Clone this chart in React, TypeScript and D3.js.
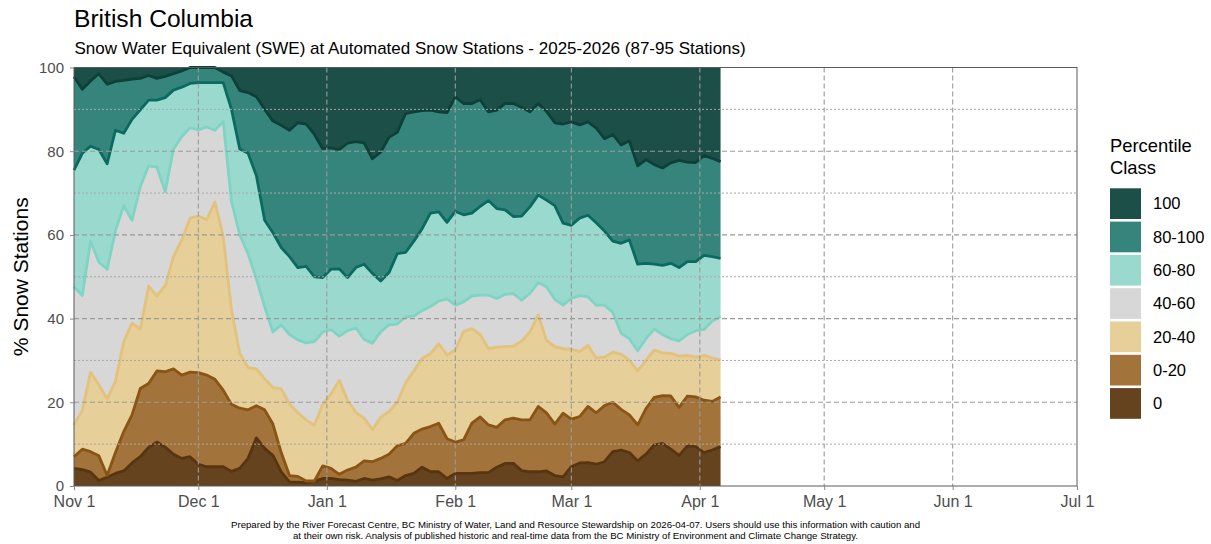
import React, { useEffect, useRef } from "react";
import * as d3 from "d3";

// Readings every second day from 2025-11-01 to 2026-04-06.
// Each array is the cumulative % of stations at or below the top of a class.
const START_DATE = "2025-11-01";
const STEP_DAYS = 2;

const topOf0 = [
  4.2, 3.9, 3.3, 1.3, 2.1, 3, 3.6, 5.5, 7, 9.2, 10.5, 9.3, 7.6, 6.6, 7, 5.2, 4.6, 4.6, 4.6, 3.5,
  4.2, 6.6, 11.5, 9, 7.3, 3.4, 1, 0.9, 0.8, 1.1, 1.8, 1.8, 1.5, 1.4, 1.1, 1.8, 1.4, 1.7, 2.2, 1.3,
  2.5, 3, 4.5, 3.4, 3.4, 1.8, 3, 3, 3, 3.2, 3.2, 4.5, 5.4, 5.4, 3.7, 3.4, 3.4, 3.6, 2.5, 2.2,
  4.6, 5.5, 5.6, 5.2, 5.8, 8.2, 8.6, 8, 6, 7.6, 9.8, 10.2, 8.8, 7.3, 9.6, 9.4, 8, 8.6, 9.4,
];
const topOf0to20 = [
  7, 8.8, 8.2, 7.2, 2.5, 8, 13, 17, 23.3, 24.5, 27.5, 27.3, 28, 26.5, 27.2, 27.1, 26.5, 25.5, 22.9, 19.5,
  18.6, 18.2, 19.2, 18.2, 14.8, 8, 2.5, 2.3, 1.2, 1.2, 4.8, 4.2, 2.8, 3.8, 4.5, 6, 5.8, 6.6, 7.6, 9.6,
  10.2, 12.6, 13.6, 14.2, 15, 11.3, 10.5, 11, 15, 16.5, 14.6, 14, 15.8, 16.2, 15.8, 15.8, 19, 17.5, 14.8, 17.4,
  16, 16.6, 19, 17.5, 19.2, 20, 18.3, 17, 14.6, 18.5, 21.2, 21.6, 21.5, 18.8, 21.5, 21.3, 20.5, 20.2, 21.3,
];
const topOf20to40 = [
  14.6, 18, 27.2, 24.2, 20.8, 25, 34.5, 38.9, 37.5, 47.8, 45.4, 47.8, 54.8, 58.8, 64, 64.5, 63.6, 67.9, 59.6, 42,
  31.7, 28.3, 28, 25.6, 23.5, 23.2, 19.6, 17.5, 15.8, 14.5, 19.5, 22, 25.3, 20.5, 17.6, 16.2, 13.5, 16.4, 17.8, 20,
  24.6, 27.5, 30.5, 31.6, 34, 31.3, 32.5, 36.9, 37.6, 36.2, 32.8, 33.2, 33.3, 33.4, 34.6, 36.8, 40.9, 34.8, 33.3, 32.8,
  32.7, 32.1, 33.6, 30.6, 30.8, 32, 31.5, 30, 27.5, 30, 32.5, 31.8, 31.7, 31, 31.2, 30.8, 31.2, 30.6, 30.1,
];
const topOf40to60 = [
  47.6, 45.5, 58.5, 53.5, 51.8, 61, 67, 63.5, 71.5, 76.5, 76.2, 70.3, 80.5, 83.5, 85.6, 85.1, 85.8, 85, 87.1, 68,
  60, 55.5, 49.5, 42.8, 36.8, 38.5, 36.2, 34.9, 34.2, 34.5, 36.8, 37.4, 35.8, 37.1, 37.8, 35, 34.1, 36.9, 38.5, 38.7,
  40.4, 40.6, 41.9, 42.9, 44.2, 44.7, 43.2, 44, 45.4, 45.6, 45.6, 44.8, 45.8, 46, 44.4, 46, 48.6, 47.6, 44.6, 43.2,
  44.8, 45.5, 45.2, 43.2, 43.2, 41.5, 36.5, 35.2, 32.3, 35.2, 37.5, 36.2, 35.2, 34.7, 36.2, 37.1, 37.4, 39.4, 40.5,
];
const topOf60to80 = [
  75.5, 79.5, 81.2, 80.4, 77, 85, 84.3, 87.6, 89.9, 92.2, 92.2, 92.8, 94.6, 95.3, 96.2, 96.4, 96.4, 96.4, 96.4, 90,
  80.5, 79.5, 74.2, 63.5, 60.5, 57, 54.8, 52.2, 52.5, 50, 49.8, 51.8, 51.9, 49.8, 52.2, 53, 50.8, 49, 51, 55.5,
  55.8, 58.5, 61.5, 65.2, 65.5, 63, 65.6, 64.8, 65.2, 66.8, 68.2, 66.3, 66, 64.4, 64.5, 66.7, 69.5, 68.3, 67, 62.8,
  62.3, 64, 64.7, 62.9, 60.9, 58.5, 58, 58.8, 53, 53.2, 53, 52.7, 53.2, 52.2, 53.6, 53.6, 55.1, 54.8, 54.4,
];
const topOf80to100 = [
  97.8, 94.8, 96.8, 98.5, 96, 96.7, 96.9, 97.2, 97.4, 98.1, 97.4, 97.9, 98.5, 99.2, 100, 100, 100, 100, 98.9, 98,
  94.5, 94, 93, 90, 87.2, 86.2, 85, 86.8, 86.5, 84, 80.6, 80.8, 80.4, 81.9, 82.3, 82, 78.2, 79.8, 83.3, 84.5,
  89, 89.4, 89.7, 89.8, 89.4, 89.2, 93, 91.4, 91.4, 92.3, 89.4, 89.8, 91.4, 91.4, 90.5, 89.4, 91.4, 89.5, 86.8, 86.5,
  87, 86.3, 87, 85.5, 83, 84, 81.5, 82.5, 76.5, 78, 76.8, 76, 77.2, 77.8, 77.4, 77.3, 79, 78.3, 77.5,
];

const classLabels = ["0", "0-20", "20-40", "40-60", "60-80", "80-100", "100"];
const fillColors = ["#66431f", "#a3733c", "#e6cf99", "#d7d7d7", "#9adace", "#36857d", "#1c4f47"];
const lineColors = ["#58340f", "#8a5414", "#e2c27d", "#7fd4c3", "#0b6a5f", "#0d4038"];

const yTicks = [0, 20, 40, 60, 80, 100];
const yMinorTicks = [10, 30, 50, 70, 90];

const FONT = "'Liberation Sans', Arial, Helvetica, sans-serif";

export default function App() {
  const svgRef = useRef<SVGSVGElement>(null);

  useEffect(() => {
    document.body.style.margin = "0";
    if (!svgRef.current) return;

    const svg = d3.select(svgRef.current);
    svg.selectAll("*").remove();

    const width = 1211;
    const height = 544;
    const panel = { left: 74, right: 1077, top: 67.5, bottom: 486 };

    svg.attr("width", width).attr("height", height).style("display", "block");
    svg.append("rect").attr("width", width).attr("height", height).attr("fill", "#fff");

    const start = d3.utcParse("%Y-%m-%d")(START_DATE)!;
    const dates = topOf0.map((_, i) => d3.utcDay.offset(start, i * STEP_DAYS));

    const xScale = d3
      .scaleUtc()
      .domain([start, new Date(Date.UTC(2026, 6, 1))])
      .range([panel.left, panel.right]);

    const yScale = d3.scaleLinear().domain([0, 100]).range([panel.bottom, panel.top]);

    // cumulative boundaries, bottom to top
    const bounds = [
      dates.map(() => 0),
      topOf0,
      topOf0to20,
      topOf20to40,
      topOf40to60,
      topOf60to80,
      topOf80to100,
      dates.map(() => 100),
    ];

    const plot = svg.append("g");

    // Areas
    classLabels.forEach((_, k) => {
      const lower = bounds[k];
      const upper = bounds[k + 1];
      const area = d3
        .area<number>()
        .x((i) => xScale(dates[i]))
        .y0((i) => yScale(lower[i]))
        .y1((i) => yScale(upper[i]));
      plot
        .append("path")
        .datum(d3.range(dates.length))
        .attr("fill", fillColors[k])
        .attr("d", area);
    });

    // Boundary lines
    lineColors.forEach((color, k) => {
      const vals = bounds[k + 1];
      const line = d3
        .line<number>()
        .x((i) => xScale(dates[i]))
        .y((i) => yScale(vals[i]));
      plot
        .append("path")
        .datum(d3.range(dates.length))
        .attr("fill", "none")
        .attr("stroke", color)
        .attr("stroke-width", 2.8)
        .attr("stroke-linejoin", "round")
        .attr("d", line);
    });

    // Grid drawn on top of the areas
    const months = d3.utcMonth.range(start, new Date(Date.UTC(2026, 6, 2)));
    const grid = svg.append("g");

    grid
      .selectAll("line.minor")
      .data(yMinorTicks)
      .enter()
      .append("line")
      .attr("x1", panel.left)
      .attr("x2", panel.right)
      .attr("y1", (d) => yScale(d))
      .attr("y2", (d) => yScale(d))
      .attr("stroke", "#a8a8a8")
      .attr("stroke-width", 1)
      .attr("stroke-dasharray", "2,2");

    grid
      .selectAll("line.majorY")
      .data(yTicks.slice(1, -1))
      .enter()
      .append("line")
      .attr("x1", panel.left)
      .attr("x2", panel.right)
      .attr("y1", (d) => yScale(d))
      .attr("y2", (d) => yScale(d))
      .attr("stroke", "#9a9a9a")
      .attr("stroke-width", 1.1)
      .attr("stroke-dasharray", "5,3");

    grid
      .selectAll("line.majorX")
      .data(months.slice(1, -1))
      .enter()
      .append("line")
      .attr("x1", (d) => xScale(d))
      .attr("x2", (d) => xScale(d))
      .attr("y1", panel.top)
      .attr("y2", panel.bottom)
      .attr("stroke", "#9a9a9a")
      .attr("stroke-width", 1.1)
      .attr("stroke-dasharray", "5,3");

    // Panel border
    svg
      .append("rect")
      .attr("x", panel.left)
      .attr("y", panel.top)
      .attr("width", panel.right - panel.left)
      .attr("height", panel.bottom - panel.top)
      .attr("fill", "none")
      .attr("stroke", "#5a5a5a")
      .attr("stroke-width", 1);

    // Axes
    const xAxis = svg
      .append("g")
      .attr("transform", `translate(0,${panel.bottom})`)
      .call(
        d3
          .axisBottom(xScale)
          .tickValues(months)
          .tickSize(4)
          .tickPadding(6)
          .tickFormat((d) => d3.utcFormat("%b %-d")(d as Date))
      );
    xAxis.select(".domain").remove();
    xAxis.selectAll("line").attr("stroke", "#8a8a8a");
    xAxis
      .selectAll("text")
      .attr("fill", "#4d4d4d")
      .attr("font-size", "16px")
      .attr("font-family", FONT);

    const yAxis = svg
      .append("g")
      .attr("transform", `translate(${panel.left},0)`)
      .call(d3.axisLeft(yScale).tickValues(yTicks).tickSize(4).tickPadding(6));
    yAxis.select(".domain").remove();
    yAxis.selectAll("line").attr("stroke", "#8a8a8a");
    yAxis
      .selectAll("text")
      .attr("fill", "#4d4d4d")
      .attr("font-size", "15px")
      .attr("font-family", FONT);

    // Titles
    svg
      .append("text")
      .attr("x", 74)
      .attr("y", 27)
      .attr("font-size", "24.6px")
      .attr("font-family", FONT)
      .attr("fill", "#000")
      .text("British Columbia");

    svg
      .append("text")
      .attr("x", 74.5)
      .attr("y", 54)
      .attr("font-size", "17px")
      .attr("font-family", FONT)
      .attr("fill", "#000")
      .text("Snow Water Equivalent (SWE) at Automated Snow Stations - 2025-2026 (87-95 Stations)");

    svg
      .append("text")
      .attr("transform", "rotate(-90)")
      .attr("x", -(panel.top + panel.bottom) / 2)
      .attr("y", 28)
      .attr("text-anchor", "middle")
      .attr("font-size", "21px")
      .attr("font-family", FONT)
      .attr("fill", "#000")
      .text("% Snow Stations");

    // Legend
    const legend = svg.append("g").attr("transform", "translate(1110,0)");
    legend
      .append("text")
      .attr("x", 0)
      .attr("y", 152)
      .attr("font-size", "18.4px")
      .attr("font-family", FONT)
      .text("Percentile");
    legend
      .append("text")
      .attr("x", 0)
      .attr("y", 174)
      .attr("font-size", "18.4px")
      .attr("font-family", FONT)
      .text("Class");

    const legendOrder = d3.range(classLabels.length).reverse();
    legendOrder.forEach((k, row) => {
      const y0 = 188.3 + row * 33.3;
      legend
        .append("rect")
        .attr("x", 0)
        .attr("y", y0)
        .attr("width", 31)
        .attr("height", 30.7)
        .attr("fill", fillColors[k]);
      legend
        .append("text")
        .attr("x", 43)
        .attr("y", y0 + 21)
        .attr("font-size", "16.5px")
        .attr("font-family", FONT)
        .attr("fill", "#000")
        .text(classLabels[k]);
    });

    // Footnote
    const notes = [
      "Prepared by the River Forecast Centre, BC Ministry of Water, Land and Resource Stewardship on 2026-04-07. Users should use this information with caution and",
      "at their own risk. Analysis of published historic and real-time data from the BC Ministry of Environment and Climate Change Strategy.",
    ];
    const noteWidths = [689, 565];
    notes.forEach((t, i) => {
      svg
        .append("text")
        .attr("x", 575.5)
        .attr("y", 527.5 + i * 11)
        .attr("text-anchor", "middle")
        .attr("font-size", "9.5px")
        .attr("font-family", "'Liberation Sans Narrow', 'Liberation Sans', Arial, sans-serif")
        .attr("textLength", noteWidths[i])
        .attr("lengthAdjust", "spacingAndGlyphs")
        .attr("fill", "#000")
        .text(t);
    });
  }, []);

  return <svg ref={svgRef}></svg>;
}
